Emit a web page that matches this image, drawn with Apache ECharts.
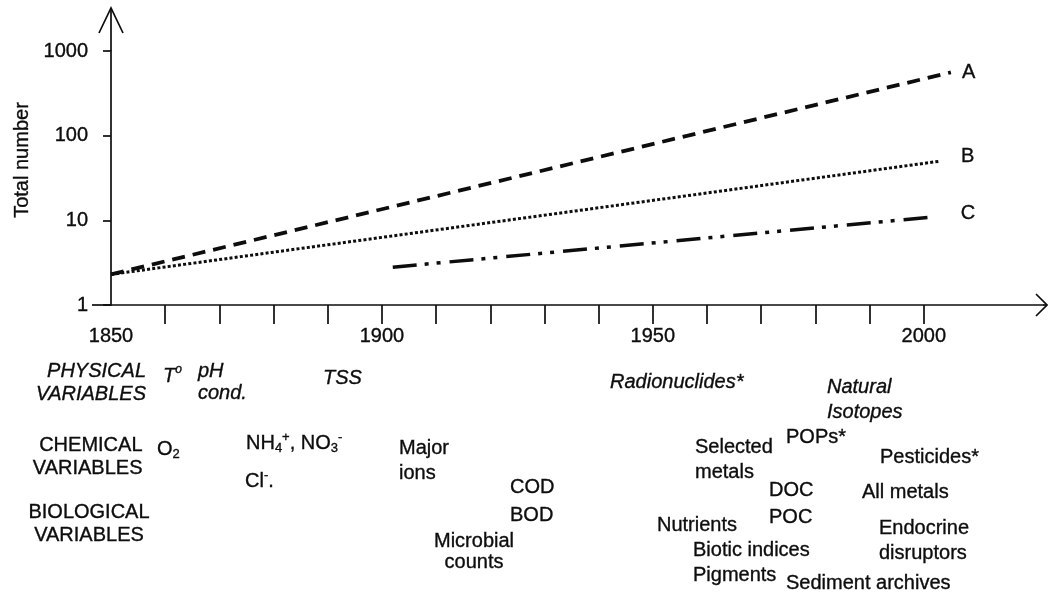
<!DOCTYPE html>
<html>
<head>
<meta charset="utf-8">
<script src="https://cdn.jsdelivr.net/npm/echarts@6/dist/echarts.min.js"></script>
<style>
  html, body { margin: 0; padding: 0; background: #ffffff; }
  #chart { width: 1048px; height: 594px; }
</style>
</head>
<body>
<div id="chart"></div>
<script>
// Growth in the number of water-quality variables monitored (log scale)
const seriesNames = ['A', 'B', 'C'];
const seriesA = [[1850, 2.3], [2005, 560]];
const seriesB = [[1850, 2.3], [2003, 50]];
const seriesC = [[1902, 2.8], [2002, 11]];

const tickYears = [1860, 1870, 1880, 1890, 1900, 1910, 1920, 1930, 1940, 1950, 1960, 1970, 1980, 1990, 2000];
const labelYears = [1850, 1900, 1950, 2000];
const yTicks = [1, 10, 100, 1000];
const yAxisTitle = 'Total number';

// Row headings and the variables listed under the time axis
const rowTitles = ['PHYSICAL\nVARIABLES', 'CHEMICAL\nVARIABLES', 'BIOLOGICAL\nVARIABLES'];
const physicalVars = ['{ti|T}{supi|o}', 'pH\ncond.', 'TSS', 'Radionuclides*', 'Natural\nIsotopes'];
const chemicalVars = ['{n|O}{sub|2}', '{n|NH}{sub|4}{sup|+}{n|, NO}{sub|3}{sup|-}', '{n|Cl}{sup|-}{n|.}',
  'Major\nions', 'COD', 'BOD', 'Selected\nmetals', 'POPs*', 'DOC', 'POC', 'Pesticides*', 'All metals'];
const biologicalVars = ['Microbial\ncounts', 'Nutrients', 'Biotic indices', 'Pigments',
  'Sediment archives', 'Endocrine\ndisruptors'];

const FONT = '"Liberation Sans", Arial, Helvetica, sans-serif';
const INK = '#0d0d0d';
const HEAVY = 0.35;   // thin outline to give the type a slightly heavier print weight

function tok(extra) {
  return Object.assign({ fontFamily: FONT, fill: INK, stroke: INK, lineWidth: HEAVY }, extra);
}
const rich = {
  n:    tok({ fontSize: 20, lineHeight: 24 }),
  sub:  tok({ fontSize: 13, lineHeight: 13, verticalAlign: 'bottom' }),
  sup:  tok({ fontSize: 13, lineHeight: 13, verticalAlign: 'top' }),
  ti:   tok({ fontSize: 20, lineHeight: 24, fontStyle: 'italic' }),
  supi: tok({ fontSize: 12, lineHeight: 12, verticalAlign: 'top', fontStyle: 'italic' })
};

// text placed at [x, centre y] with a horizontal alignment and line height
function note(text, x, y, align, lh, italic) {
  const isRich = text.indexOf('{') === 0;
  const style = {
    text: text,
    fontSize: 20,
    fontFamily: FONT,
    fontStyle: italic ? 'italic' : 'normal',
    fill: INK,
    lineHeight: lh || 24,
    align: align || 'left',
    verticalAlign: 'middle'
  };
  if (isRich) {
    style.rich = rich;
  } else {
    style.stroke = INK;
    style.lineWidth = HEAVY;
  }
  return { type: 'text', x: x, y: y, silent: true, style: style };
}

const notes = [
  note(rowTitles[0], 146, 382.5, 'right', 23, true),
  note(rowTitles[1], 142.5, 456.5, 'right', 23, false),
  note(rowTitles[2], 89, 524, 'center', 23, false),

  note(physicalVars[0], 163, 376, 'left', 24, true),
  note(physicalVars[1], 198, 382.5, 'left', 22, true),
  note(physicalVars[2], 323, 378, 'left', 24, true),
  note(physicalVars[3], 610, 382, 'left', 24, true),
  note(physicalVars[4], 827, 399.5, 'left', 25, true),

  note(chemicalVars[0], 157, 449, 'left'),
  note(chemicalVars[1], 246, 443, 'left'),
  note(chemicalVars[2], 245, 481, 'left'),
  note(chemicalVars[3], 399, 460.5, 'left', 25),
  note(chemicalVars[4], 510, 487, 'left'),
  note(chemicalVars[5], 510, 515, 'left'),
  note(chemicalVars[6], 695, 459.5, 'left', 25),
  note(chemicalVars[7], 786, 437, 'left'),
  note(chemicalVars[8], 769, 490, 'left'),
  note(chemicalVars[9], 769, 517, 'left'),
  note(chemicalVars[10], 880, 457, 'left'),
  note(chemicalVars[11], 862, 492, 'left'),

  note(biologicalVars[0], 474, 551.5, 'center', 21),
  note(biologicalVars[1], 657, 525, 'left'),
  note(biologicalVars[2], 693, 550, 'left'),
  note(biologicalVars[3], 693, 575, 'left'),
  note(biologicalVars[4], 786, 583, 'left'),
  note(biologicalVars[5], 879, 540.5, 'left', 25)
];

const chart = echarts.init(document.getElementById('chart'), null, { renderer: 'canvas' });

function lineSeries(name, data, width, dash, labelDist, labelOffset) {
  return {
    type: 'line', name: name, data: data,
    symbol: 'none', showSymbol: false, silent: true,
    lineStyle: { color: INK, width: width, type: dash, cap: 'butt' },
    endLabel: {
      show: true, formatter: '{a}', color: INK, fontSize: 20, fontFamily: FONT,
      textBorderColor: INK, textBorderWidth: HEAVY,
      distance: labelDist, offset: labelOffset
    }
  };
}

const axisText = { fontSize: 20, fontFamily: FONT, color: INK, textBorderColor: INK, textBorderWidth: HEAVY };

const option = {
  animation: false,
  backgroundColor: '#ffffff',
  grid: { left: 111, right: 5, top: 51, bottom: 289, containLabel: false },
  xAxis: {
    type: 'value', min: 1850, max: 2022,
    axisLine: { show: true, onZero: false, lineStyle: { color: INK, width: 1.7 } },
    axisTick: { show: true, inside: false, length: 19, customValues: tickYears, lineStyle: { color: INK, width: 1.7 } },
    axisLabel: Object.assign({ show: true, customValues: labelYears, margin: 21, formatter: v => String(v) }, axisText),
    splitLine: { show: false }
  },
  yAxis: {
    type: 'log', logBase: 10, min: yTicks[0], max: yTicks[yTicks.length - 1],
    axisLine: { show: true, lineStyle: { color: INK, width: 1.7 } },
    axisTick: { show: true, inside: false, length: 8, lineStyle: { color: INK, width: 1.7 } },
    axisLabel: Object.assign({ show: true, margin: 23, formatter: v => String(Math.round(v)) }, axisText),
    splitLine: { show: false }
  },
  series: [
    lineSeries(seriesNames[0], seriesA, 3.8, [13, 8], 11, [0, 0]),
    lineSeries(seriesNames[1], seriesB, 3, [3, 2.2], 21, [0, -5]),
    lineSeries(seriesNames[2], seriesC, 3.5, [24, 8, 4, 8, 4, 9], 26, [0, -3])
  ],
  graphic: []
};

chart.setOption(option);

// Axis arrows, the stub of the time axis left of the origin, and the y-axis title
const origin = chart.convertToPixel({ gridIndex: 0 }, [1850, 1]);
const xEnd = chart.convertToPixel({ gridIndex: 0 }, [2022, 1]);
const yEnd = chart.convertToPixel({ gridIndex: 0 }, [1850, 1000]);
const ax = { stroke: INK, lineWidth: 1.7, fill: null };

const decorations = [
  { type: 'line', silent: true, shape: { x1: origin[0], y1: yEnd[1], x2: origin[0], y2: 9 }, style: ax },
  { type: 'polyline', silent: true, shape: { points: [[origin[0] - 12, 33], [origin[0], 8], [origin[0] + 12, 33]] }, style: ax },
  { type: 'line', silent: true, shape: { x1: xEnd[0], y1: origin[1], x2: 1046, y2: origin[1] }, style: ax },
  { type: 'polyline', silent: true, shape: { points: [[1036, origin[1] - 11], [1047, origin[1]], [1036, origin[1] + 11]] }, style: ax },
  { type: 'line', silent: true, shape: { x1: 92, y1: origin[1], x2: origin[0], y2: origin[1] }, style: ax },
  {
    type: 'text', silent: true, x: 22, y: 160, rotation: Math.PI / 2,
    style: {
      text: yAxisTitle, fontSize: 20, fontFamily: FONT, fill: INK, stroke: INK, lineWidth: HEAVY,
      align: 'center', verticalAlign: 'middle'
    }
  }
];

chart.setOption({ graphic: decorations.concat(notes) });
</script>
</body>
</html>
